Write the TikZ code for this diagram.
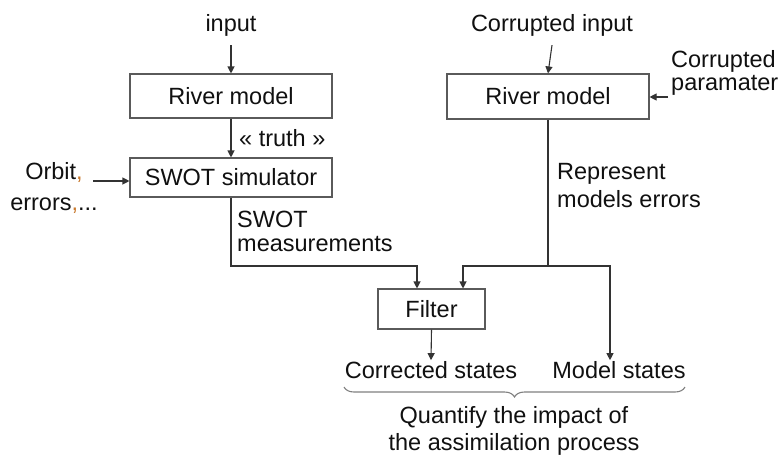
\documentclass[tikz,border=0pt]{standalone}
\usepackage{fontspec}
\setmainfont{Liberation Sans}
\usetikzlibrary{arrows.meta,decorations.pathreplacing}
\definecolor{linec}{HTML}{333333}
\definecolor{boxc}{HTML}{5A5A5A}
\definecolor{txtc}{HTML}{101010}
\definecolor{commac}{HTML}{C8782C}
\definecolor{bracec}{HTML}{808080}
\begin{document}
\begin{tikzpicture}[x=1pt,y=-1pt,
  every node/.style={font=\fontsize{23.5}{27}\selectfont, text=txtc},
  box/.style={draw=boxc, line width=1.1pt, minimum width=202pt, inner sep=0pt},
  txt/.style={inner sep=1pt},
  arr/.style={draw=linec, line width=1.1pt, -{Triangle[length=7pt,width=7pt]}},
  ln/.style={draw=linec, line width=1.1pt},
  bracestyle/.style={draw=bracec, line width=1.1pt, decorate,
     decoration={brace, mirror, amplitude=10pt}}]
\useasboundingbox (0,0) rectangle (783,456);

% left column
\node[txt] (in1) at (231,25) {input};
\node[box, minimum height=44pt] (rm1) at (231,96) {River model};
\node[box, minimum height=39pt] (swot) at (231,177.5) {SWOT simulator};
\node[txt, anchor=west] (truth) at (238,138) {« truth »};
\node[txt, align=center] (orbit) at (54,188) {Orbit{\color{commac},}\\[4pt]errors{\color{commac},}...};
\node[txt, anchor=north west, align=left] (meas) at (236,210) {SWOT\\[-3pt]measurements};

% right column
\node[txt] (in2) at (552,25) {Corrupted input};
\node[box, minimum height=45pt] (rm2) at (548,96.5) {River model};
\node[txt, anchor=west, align=left] (cp) at (670,73) {Corrupted\\[-4pt]paramater};
\node[txt, anchor=north west, align=left] (rep) at (556,162) {Represent\\[1pt]models errors};

% filter and outputs
\node[box, minimum width=107pt, minimum height=40pt] (filter) at (431.5,309) {Filter};
\node[txt] (cs) at (431,370) {Corrected states};
\node[txt] (ms) at (619,370) {Model states};
\node[txt, align=center] (quant) at (514,431) {Quantify the impact of\\the assimilation process};

\coordinate (fa) at (417,266);
\coordinate (fb) at (463,266);
\coordinate (j2) at (548,266);
\coordinate (oin) at (93,181);
\coordinate (cpin) at (668,97);

% connectors
\draw[arr] ([yshift=-8pt]in1.south) -- (rm1.north);
\draw[arr] ([yshift=-8pt]in2.south) -- (rm2.north);
\draw[arr] (rm1.south) -- (swot.north);
\draw[arr] (oin) -- (oin -| swot.west);
\draw[arr] (cpin) -- (cpin -| rm2.east);
\draw[arr] (swot.south) |- (fa) -- (fa |- filter.north);
\draw[ln] (rm2.south) -- (j2);
\draw[arr] (j2) -| (fb |- filter.north);
\draw[arr] (j2) -| ([xshift=-9pt]ms.north);
\draw[arr] (filter.south) -- (cs.north);

% brace
\draw[bracestyle] (344,387) -- (685,387);
\end{tikzpicture}
\end{document}
